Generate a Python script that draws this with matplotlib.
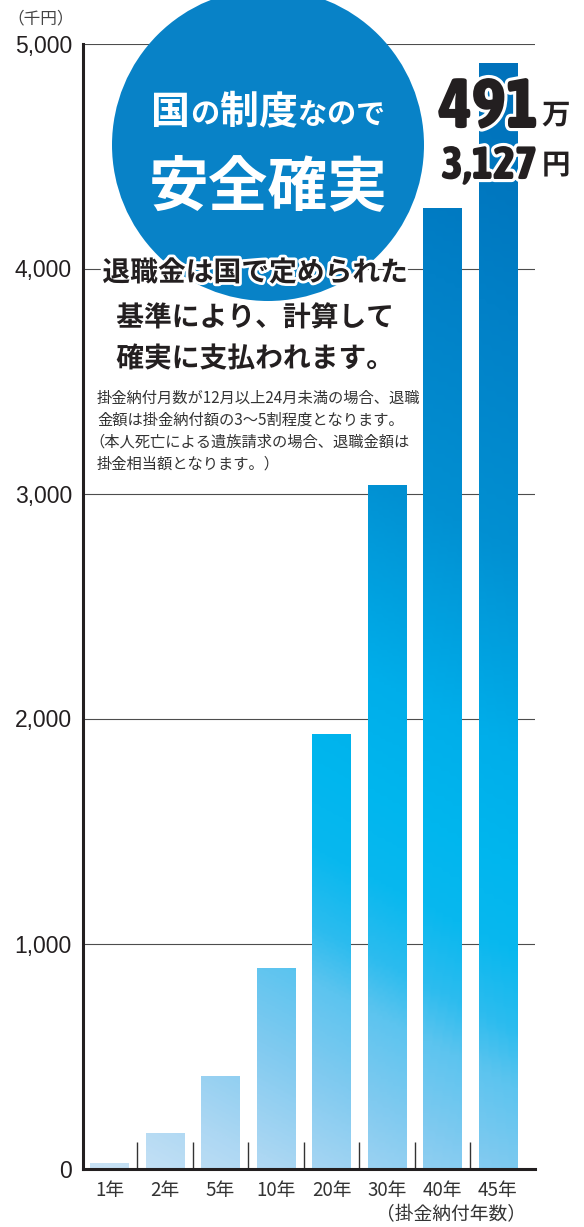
import numpy as np
import matplotlib
matplotlib.use("Agg")
import matplotlib.pyplot as plt
from matplotlib import font_manager as fm
from matplotlib.font_manager import FontProperties
from matplotlib.colors import LinearSegmentedColormap
from matplotlib.patches import Ellipse
import matplotlib.patheffects as pe

# ---------------- data ----------------
categories = ["1年", "2年", "5年", "10年", "20年", "30年", "40年", "45年"]
values = [24, 156, 409, 890, 1931, 3038, 4270, 4913]      # 千円
yticks = [0, 1000, 2000, 3000, 4000, 5000]
ytick_labels = ["0", "1,000", "2,000", "3,000", "4,000", "5,000"]
unit_label = "（千円）"
xaxis_label = "（掛金納付年数）"
circle_line1 = [("国", "B"), ("の", "S"), ("制", "B"), ("度", "B"), ("な", "S"), ("の", "S"), ("で", "S")]
circle_line2 = "安全確実"
main_lines = ["退職金は国で定められた", "基準により、計算して", "確実に支払われます。"]
note_lines = ["掛金納付月数が12月以上24月未満の場合、退職",
              "金額は掛金納付額の3〜5割程度となります。",
              "（本人死亡による遺族請求の場合、退職金額は",
              "掛金相当額となります。）"]
big_num1, big_unit1 = "491", "万"
big_num2, big_unit2 = "3,127", "円"

W, H = 584, 1227
plt.rcParams['font.family'] = ['Noto Sans CJK JP', 'DejaVu Sans']
fig = plt.figure(figsize=(W / 100, H / 100), dpi=100)
fig.patch.set_facecolor("white")

def fx(x):
    return x / W

def fy(y):
    return 1 - y / H

# axes geometry (pixels)
left_px, right_px, top_px, base_px = 83, 535, 43.5, 1168.5
ax = fig.add_axes([fx(left_px), fy(base_px), (right_px - left_px) / W, (base_px - top_px) / H])
slot = 55.5
c0 = 109.5

dark = "#231f20"
for s in ["top", "right"]:
    ax.spines[s].set_visible(False)
for s in ["left", "bottom"]:
    ax.spines[s].set_linewidth(2.2)
    ax.spines[s].set_color(dark)
    ax.spines[s].set_zorder(5)

ax.set_axisbelow(True)
ax.yaxis.grid(True, color="#4d4d4d", linewidth=0.8)
ax.set_yticks(yticks)
ax.set_yticklabels(ytick_labels, fontproperties=FontProperties(family="Liberation Sans", size=16.5), color=dark)
ax.tick_params(axis="y", length=0, pad=8)

xpos = np.arange(len(categories))
ax.set_xticks(xpos)
ax.set_xticklabels(categories, fontproperties=FontProperties(family="Noto Sans CJK JP", size=13.5), color="#333333")
ax.tick_params(axis="x", which="major", length=0, pad=8)
ax.set_xticks(xpos[:-1] + 0.5, minor=True)
ax.tick_params(axis="x", which="minor", direction="in", length=19.5, width=1.0, color="#333333")

# gradient bars
stops = [(0.00, "#c8e2f5"), (0.08, "#acd7f3"), (0.18, "#80caf0"), (0.26, "#5cc4ef"),
         (0.31, "#2cbcee"), (0.38, "#08b8ef"), (0.46, "#00b6ee"), (0.56, "#00aeea"),
         (0.74, "#0290d2"), (0.95, "#0180c7"), (1.06, "#0077bf"), (1.20, "#0070ba")]
tmax = 1.20
cmap = LinearSegmentedColormap.from_list("grad", [(t / tmax, c) for t, c in stops])
bw = 0.69
bars = ax.bar(xpos, values, width=bw, color="none", edgecolor="none", zorder=2)
for b, xc, v in zip(bars, xpos, values):
    x0, x1 = xc - bw / 2, xc + bw / 2
    xs = np.linspace(x0, x1, 16)
    vs = np.linspace(0, v, 200)
    XX, VV = np.meshgrid(xs, vs)
    T = VV / 5000 + 0.026 * XX
    im = ax.imshow(T, extent=[x0, x1, 0, v], origin="lower", cmap=cmap, vmin=0, vmax=tmax,
                   aspect="auto", interpolation="bilinear", zorder=2)
    im.set_clip_path(b)
ax.set_xlim((left_px - c0) / slot, (right_px - c0) / slot)
ax.set_ylim(0, 5000)

# unit labels
fig.text(fx(41), fy(19), unit_label, ha="center", va="center", fontsize=12, color="#444444")
fig.text(fx(526), fy(1215), xaxis_label, ha="right", va="center", fontsize=13.5, color="#333333")

# circle
circ = Ellipse((fx(268), fy(145)), width=312 / W, height=312 / H, transform=fig.transFigure,
               facecolor="#0882c7", edgecolor="none", zorder=1)
fig.add_artist(circ)

# circle text line 1
bigsz, smallsz = 28, 21
widths = {"B": bigsz * 100 / 72, "S": smallsz * 100 / 72}
total = sum(widths[k] for _, k in circle_line1)
x = 268 - total / 2
for ch, k in circle_line1:
    fig.text(fx(x), fy(124), ch, ha="left", va="baseline",
             fontproperties=FontProperties(family="Noto Sans CJK JP", weight="bold",
                                           size=bigsz if k == "B" else smallsz),
             color="white", zorder=3)
    x += widths[k]
fig.text(fx(268), fy(205), circle_line2, ha="center", va="baseline",
         fontproperties=FontProperties(family="Noto Sans CJK JP", weight="bold", size=43),
         color="white", zorder=3)

# main message
stroke = [pe.withStroke(linewidth=4, foreground="white")]
for txt, yc in zip(main_lines, [273, 318, 359]):
    fig.text(fx(255), fy(yc), txt, ha="center", va="center",
             fontproperties=FontProperties(family="Noto Sans CJK JP", weight="bold", size=20),
             color=dark, zorder=3, path_effects=stroke)

for txt, yc in zip(note_lines, [398, 420, 442, 464]):
    xoff = -8 if txt.startswith("（") else 0
    fig.text(fx(97 + xoff), fy(yc), txt, ha="left", va="center", fontsize=11, color="#333333", zorder=3)

# big amount
def wnum(w):
    if isinstance(w, (int, float)):
        return w
    return {"bold": 700, "heavy": 800, "black": 900, "extra bold": 800, "semibold": 600,
            "demibold": 600, "normal": 400, "regular": 400}.get(str(w).lower(), 400)

def upright(f):
    n = f.fname.lower()
    return f.style == "normal" and "italic" not in n and "oblique" not in n

def find_font(pred):
    best = None
    for f in fm.fontManager.ttflist:
        try:
            if pred(f) and upright(f):
                if best is None or wnum(f.weight) > wnum(best.weight):
                    best = f
        except Exception:
            pass
    return best.fname if best else None

def is_condensed(f):
    return ("condensed" in f.name.lower() or "narrow" in f.name.lower()
            or "condensed" in str(f.stretch) or "condensed" in f.fname.lower()
            or "narrow" in f.fname.lower())

narrow = (find_font(lambda f: is_condensed(f) and wnum(f.weight) >= 700)
          or fm.findfont(FontProperties(family="Liberation Sans", weight="bold")))

stroke2 = [pe.withStroke(linewidth=4.5, foreground="white")]
renderer = fig.canvas.get_renderer()

def fitted_text(txt, xr, ybase, target_w, size0):
    t = fig.text(fx(xr), fy(ybase), txt, ha="right", va="baseline",
                 fontproperties=FontProperties(fname=narrow, size=size0), color=dark,
                 zorder=4, path_effects=stroke2)
    w = t.get_window_extent(renderer=renderer).width
    if w > 0:
        t.set_fontproperties(FontProperties(fname=narrow, size=size0 * target_w / w))
    return t

fitted_text(big_num1, 539, 128, 100, 50)
fitted_text(big_num2, 537, 179, 96, 34)
fig.text(fx(542), fy(124), big_unit1, ha="left", va="baseline",
         fontproperties=FontProperties(family="Noto Sans CJK JP", weight="bold", size=20.5),
         color=dark, zorder=4, path_effects=stroke2)
fig.text(fx(542), fy(174), big_unit2, ha="left", va="baseline",
         fontproperties=FontProperties(family="Noto Sans CJK JP", weight="bold", size=20.5),
         color=dark, zorder=4, path_effects=stroke2)

fig.savefig("out.png", dpi=100, facecolor="white")
